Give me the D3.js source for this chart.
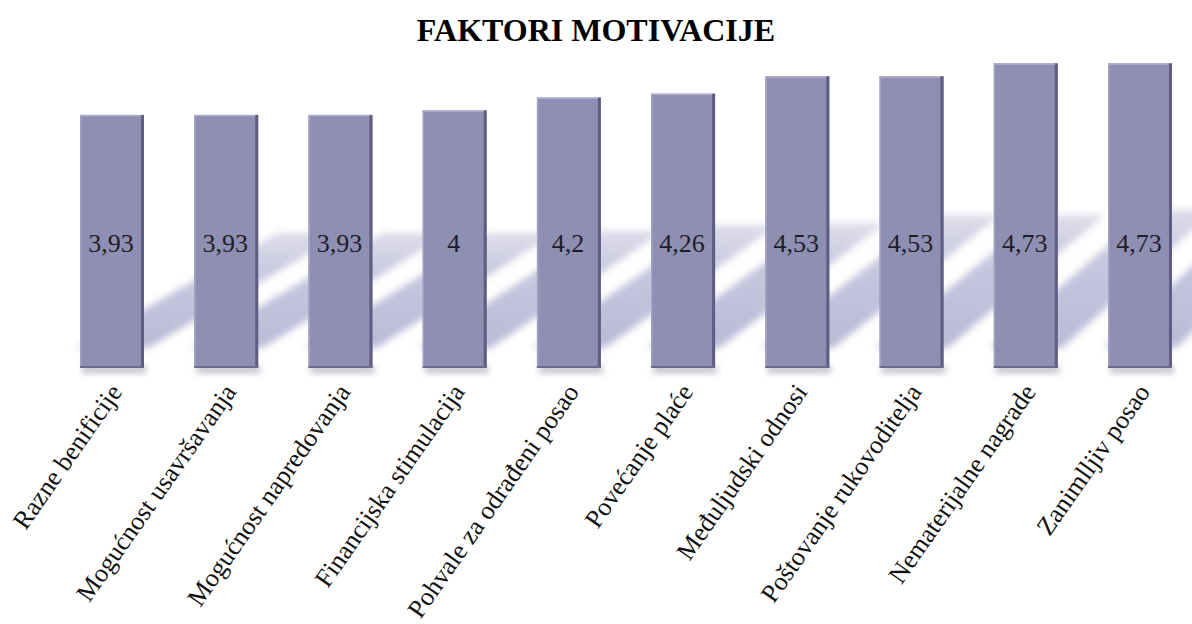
<!DOCTYPE html>
<html>
<head>
<meta charset="utf-8">
<script src="https://cdn.jsdelivr.net/npm/d3@7"></script>
<style>
    html, body { margin: 0; padding: 0; background: #ffffff; }
    svg { display: block; }
</style>
</head>
<body>
<div class="chart"></div>
<script>
const title = "FAKTORI MOTIVACIJE";

const categories = [
    "Razne benificije",
    "Mogućnost usavršavanja",
    "Mogućnost napredovanja",
    "Financijska stimulacija",
    "Pohvale za odrađeni posao",
    "Povećanje plaće",
    "Međuljudski odnosi",
    "Poštovanje rukovoditelja",
    "Nematerijalne nagrade",
    "Zanimlljiv posao"
];

const values = [3.93, 3.93, 3.93, 4, 4.2, 4.26, 4.53, 4.53, 4.73, 4.73];

const valueLabels = ["3,93", "3,93", "3,93", "4", "4,2", "4,26", "4,53", "4,53", "4,73", "4,73"];

const width = 1192;
const height = 624;
const baseline = 368;
const serif = "'Liberation Serif', 'Times New Roman', serif";

const data = categories.map((name, i) => ({ name, value: values[i], label: valueLabels[i] }));

const svg = d3.select(".chart").append("svg")
    .attr("width", width)
    .attr("height", height);

const defs = svg.append("defs");

defs.append("filter")
    .attr("id", "soft")
    .attr("x", "-30%").attr("y", "-30%")
    .attr("width", "160%").attr("height", "160%")
    .append("feGaussianBlur")
    .attr("stdDeviation", 3.5);

defs.append("filter")
    .attr("id", "under")
    .attr("x", "-20%").attr("y", "-100%")
    .attr("width", "140%").attr("height", "300%")
    .append("feGaussianBlur")
    .attr("stdDeviation", 3);

// shadow fades towards the far end
const shadowGrad = defs.append("linearGradient")
    .attr("id", "shadowGrad")
    .attr("x1", 0).attr("y1", 1)
    .attr("x2", 0).attr("y2", 0);
shadowGrad.append("stop").attr("offset", "0%").attr("stop-color", "#8c8cbc").attr("stop-opacity", 0.6);
shadowGrad.append("stop").attr("offset", "60%").attr("stop-color", "#8c8cbc").attr("stop-opacity", 0.5);
shadowGrad.append("stop").attr("offset", "100%").attr("stop-color", "#8c8cbc").attr("stop-opacity", 0.3);

const x = d3.scaleBand()
    .domain(categories)
    .range([54.9, 1197.1])
    .paddingInner(0.44)
    .paddingOuter(0.22);

const y = d3.scaleLinear()
    .domain([0, 5])
    .range([baseline, 46]);

// Title
svg.append("text")
    .attr("x", 596)
    .attr("y", 41)
    .attr("text-anchor", "middle")
    .style("font-family", serif)
    .style("font-weight", "bold")
    .style("font-size", "32px")
    .attr("fill", "#000")
    .text(title);

// Perspective shadows: every corner runs towards one far vanishing point
const shadowBase = baseline - 20;
const vanish = [2750, -1180];
const shadowPoint = (px, dy) => {
    const slope = (shadowBase - vanish[1]) / (vanish[0] - px);
    return [px + dy / slope, shadowBase - dy];
};

svg.append("g")
    .attr("filter", "url(#soft)")
    .selectAll("polygon")
    .data(data)
    .join("polygon")
    .attr("fill", "url(#shadowGrad)")
    .attr("points", d => {
        const x0 = x(d.name) - 4;
        const x1 = x(d.name) + x.bandwidth() + 4;
        const dy = 0.455 * (baseline - y(d.value));
        return [[x0, shadowBase], [x1, shadowBase], shadowPoint(x1, dy), shadowPoint(x0, dy)].join(" ");
    });

// Soft shadow under each bar
svg.append("g")
    .selectAll("rect")
    .data(data)
    .join("rect")
    .attr("x", d => x(d.name) + 2)
    .attr("y", baseline - 2)
    .attr("width", x.bandwidth())
    .attr("height", 7)
    .attr("fill", "#a0a0b0")
    .attr("opacity", 0.7)
    .attr("filter", "url(#under)");

// Bars
const bar = svg.append("g")
    .selectAll("g")
    .data(data)
    .join("g")
    .attr("transform", d => `translate(${x(d.name)},${y(d.value)})`);

bar.append("rect")
    .attr("width", x.bandwidth())
    .attr("height", d => baseline - y(d.value))
    .attr("fill", "#8f8eb3");

// bevel edges
bar.append("rect")
    .attr("x", x.bandwidth() - 3)
    .attr("width", 3)
    .attr("height", d => baseline - y(d.value))
    .attr("fill", "#5f5e80");

bar.append("rect")
    .attr("y", d => baseline - y(d.value) - 2)
    .attr("width", x.bandwidth())
    .attr("height", 2)
    .attr("fill", "#6b6a8c");

bar.append("rect")
    .attr("width", x.bandwidth() - 3)
    .attr("height", 1.5)
    .attr("fill", "#aeadca");

bar.append("rect")
    .attr("width", 1.5)
    .attr("height", d => baseline - y(d.value) - 2)
    .attr("fill", "#a3a2c2");

// Value labels
svg.append("g")
    .selectAll("text")
    .data(data)
    .join("text")
    .attr("x", d => x(d.name) + x.bandwidth() / 2 - 1)
    .attr("y", 252)
    .attr("text-anchor", "middle")
    .style("font-family", serif)
    .style("font-size", "26px")
    .attr("fill", "#1e1e28")
    .text(d => d.label);

// Category labels, rotated
svg.append("g")
    .selectAll("text")
    .data(data)
    .join("text")
    .attr("text-anchor", "end")
    .attr("transform", d => `translate(${x(d.name) + x.bandwidth() / 2 + 11},${baseline + 24}) rotate(-55)`)
    .style("font-family", serif)
    .style("font-size", "26px")
    .attr("fill", "#111")
    .text(d => d.name);
</script>
</body>
</html>
